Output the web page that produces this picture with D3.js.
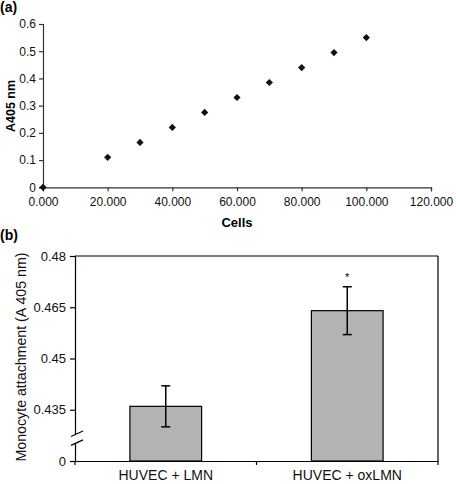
<!DOCTYPE html>
<html><head><meta charset="utf-8">
<script src="https://cdn.jsdelivr.net/npm/d3@7"></script>
<style>
html,body{margin:0;padding:0;background:#fff;}
svg{display:block;font-family:"Liberation Sans",Arial,sans-serif;}
</style></head>
<body>
<svg id="c" width="456" height="484"></svg>
<script>
// Panel (a) data
const cellsA = [0, 20000, 30000, 40000, 50000, 60000, 70000, 80000, 90000, 100000];
const absA = [0, 0.11, 0.165, 0.22, 0.275, 0.33, 0.385, 0.44, 0.495, 0.55];
const xTickValuesA = [0, 20000, 40000, 60000, 80000, 100000, 120000];
const xTickLabelsA = ["0.000", "20.000", "40.000", "60.000", "80.000", "100.000", "120.000"];
const yTickValuesA = [0, 0.1, 0.2, 0.3, 0.4, 0.5, 0.6];
const yTickLabelsA = ["0", "0.1", "0.2", "0.3", "0.4", "0.5", "0.6"];

// Panel (b) data
const groupsB = ["HUVEC + LMN", "HUVEC + oxLMN"];
const meansB = [0.436, 0.464];
const errsB = [0.006, 0.007];
const signifB = ["", "*"];
const yTickValuesB = [0.42, 0.435, 0.45, 0.465, 0.48];
const yTickLabelsB = ["0", "0.435", "0.45", "0.465", "0.48"];

const svg = d3.select("#c");
const axisCol = "#333";

// ---------- Panel (a) ----------
const xA = d3.scaleLinear().domain([0, 120000]).range([43, 431]);
const yA = d3.scaleLinear().domain([0, 0.6]).range([187.3, 24]);

svg.append("text").attr("x", 0).attr("y", 12).attr("font-size", 14).attr("font-weight", "bold").text("(a)");

const gxA = svg.append("g").attr("transform", `translate(0,${yA(0)})`)
  .call(d3.axisBottom(xA).tickValues(xTickValuesA).tickSize(4).tickPadding(6)
    .tickFormat((d, i) => xTickLabelsA[i]));
const gyA = svg.append("g").attr("transform", `translate(${xA(0)},0)`)
  .call(d3.axisLeft(yA).tickValues(yTickValuesA).tickSize(4).tickPadding(3)
    .tickFormat((d, i) => yTickLabelsA[i]));
[gxA, gyA].forEach(g => {
  g.select(".domain").attr("stroke", axisCol).attr("stroke-width", 1.2);
  g.selectAll(".tick line").attr("stroke", axisCol).attr("stroke-width", 1.2);
  g.selectAll(".tick text").attr("font-size", 12).attr("fill", "#111")
    .attr("font-family", '"Liberation Sans",Arial,sans-serif');
});

svg.append("g").selectAll("path").data(cellsA).join("path")
  .attr("d", d3.symbol().type(d3.symbolSquare).size(26))
  .attr("transform", (d, i) => `translate(${xA(d)},${yA(absA[i])}) rotate(45)`)
  .attr("fill", "#111");

svg.append("text").attr("x", 237).attr("y", 227).attr("text-anchor", "middle")
  .attr("font-size", 13).attr("font-weight", "bold").text("Cells");
svg.append("text").attr("transform", "translate(15,106) rotate(-90)").attr("text-anchor", "middle")
  .attr("font-size", 12.5).attr("font-weight", "bold").text("A405 nm");

// ---------- Panel (b) ----------
const xB = d3.scaleBand().domain(groupsB).range([75, 438]).paddingInner(0).paddingOuter(0);
const yB = d3.scaleLinear().domain([0.42, 0.48]).range([461, 256]);

svg.append("text").attr("x", 0).attr("y", 240).attr("font-size", 14).attr("font-weight", "bold").text("(b)");

// box top & right
svg.append("line").attr("x1", 75).attr("x2", 438).attr("y1", yB(0.48)).attr("y2", yB(0.48))
  .attr("stroke", "#000").attr("stroke-width", 1.2);
svg.append("line").attr("x1", 438).attr("x2", 438).attr("y1", yB(0.48)).attr("y2", yB(0.42))
  .attr("stroke", "#000").attr("stroke-width", 1.2);

// bars
const bw = xB.bandwidth() * 0.395;
svg.append("g").selectAll("rect").data(groupsB).join("rect")
  .attr("x", d => xB(d) + xB.bandwidth() / 2 - bw / 2)
  .attr("width", bw)
  .attr("y", (d, i) => yB(meansB[i]))
  .attr("height", (d, i) => yB(0.42) - yB(meansB[i]))
  .attr("fill", "#b3b3b3").attr("stroke", "#000").attr("stroke-width", 1.2);

// error bars
const eb = svg.append("g").attr("stroke", "#000").attr("stroke-width", 1.5);
groupsB.forEach((g, i) => {
  const cx = xB(g) + xB.bandwidth() / 2;
  eb.append("line").attr("x1", cx).attr("x2", cx)
    .attr("y1", yB(meansB[i] - errsB[i])).attr("y2", yB(meansB[i] + errsB[i]));
  [meansB[i] - errsB[i], meansB[i] + errsB[i]].forEach(v => {
    eb.append("line").attr("x1", cx - 4.5).attr("x2", cx + 4.5).attr("y1", yB(v)).attr("y2", yB(v));
  });
  if (signifB[i]) {
    svg.append("text").attr("x", cx).attr("y", yB(meansB[i] + errsB[i]) - 6)
      .attr("text-anchor", "middle").attr("font-size", 11).text(signifB[i]);
  }
});

// axes b
const gxB = svg.append("g").attr("transform", `translate(0,${yB(0.42)})`)
  .call(d3.axisBottom(xB).tickSize(0).tickPadding(9));
gxB.select(".domain").attr("stroke", "#000").attr("stroke-width", 1.2);
gxB.selectAll(".tick text").attr("font-size", 14).attr("fill", "#111")
  .attr("font-family", '"Liberation Sans",Arial,sans-serif');
// category boundary ticks
svg.append("g").selectAll("line").data([75, xB(groupsB[1]), 438]).join("line")
  .attr("x1", d => d).attr("x2", d => d).attr("y1", yB(0.42)).attr("y2", yB(0.42) + 4)
  .attr("stroke", "#000").attr("stroke-width", 1.2);

const gyB = svg.append("g").attr("transform", `translate(75,0)`)
  .call(d3.axisLeft(yB).tickValues(yTickValuesB).tickSize(5).tickPadding(4)
    .tickFormat((d, i) => yTickLabelsB[i]));
gyB.select(".domain").attr("stroke", "#000").attr("stroke-width", 1.2);
gyB.selectAll(".tick line").attr("stroke", "#000").attr("stroke-width", 1.2);
gyB.selectAll(".tick text").attr("font-size", 13).attr("fill", "#111")
  .attr("font-family", '"Liberation Sans",Arial,sans-serif');

// axis break
const bTop = yB(0.4279), bBot = yB(0.4253);
svg.append("rect").attr("x", 72).attr("y", bTop).attr("width", 6).attr("height", bBot - bTop).attr("fill", "#fff");
[bTop, bBot].forEach(y => {
  svg.append("line").attr("x1", 71).attr("x2", 83).attr("y1", y + 2.5).attr("y2", y - 3)
    .attr("stroke", "#000").attr("stroke-width", 1.2);
});

svg.append("text").attr("transform", "translate(26,357) rotate(-90)").attr("text-anchor", "middle")
  .attr("font-size", 14.2).attr("fill", "#111").text("Monocyte attachment (A 405 nm)");
</script>
</body></html>
